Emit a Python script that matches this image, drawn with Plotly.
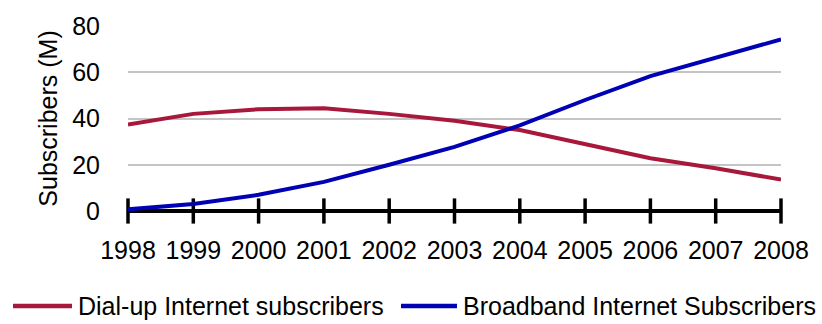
import plotly.graph_objects as go

years = [1998, 1999, 2000, 2001, 2002, 2003, 2004, 2005, 2006, 2007, 2008]
dialup = [37.4, 42.0, 44.0, 44.4, 42.0, 39.0, 35.0, 29.0, 22.8, 18.5, 13.6]
broadband = [0.7, 3.0, 7.0, 12.6, 20.0, 27.7, 37.0, 48.0, 58.3, 66.4, 74.2]
y_ticks = [0, 20, 40, 60, 80]
series_names = ["Dial-up Internet subscribers", "Broadband Internet Subscribers"]

RED = "#a8183a"
BLUE = "#0000b4"
FONT = "Liberation Sans, Arial, sans-serif"

W, H = 822, 324
ML, MR, MT, MB = 128, 41, 20, 113
PW, PH = W - ML - MR, H - MT - MB


def px_x(px):
    return (px - ML) / PW


def px_y(py):
    return (H - MB - py) / PH


fig = go.Figure()

# cross-shaped tick marks on the category axis
fig.add_trace(go.Scatter(
    x=years, y=[0] * len(years), mode="markers",
    marker=dict(symbol="line-ns", size=18, line=dict(width=3.5, color="black")),
    showlegend=False, hoverinfo="skip", cliponaxis=False,
))

fig.add_trace(go.Scatter(
    x=years, y=dialup, mode="lines", name=series_names[0],
    line=dict(color=RED, width=4), cliponaxis=False, showlegend=False,
))
fig.add_trace(go.Scatter(
    x=years, y=broadband, mode="lines", name=series_names[1],
    line=dict(color=BLUE, width=4), cliponaxis=False, showlegend=False,
))

# legend row along the bottom: swatch line + label for each series
legend_items = [(13, 72, 77, RED, series_names[0]), (401, 457, 462, BLUE, series_names[1])]
ly = px_y(309)
for x0, x1, tx, color, label in legend_items:
    fig.add_shape(type="line", xref="paper", yref="paper",
                  x0=px_x(x0), x1=px_x(x1), y0=ly, y1=ly,
                  line=dict(color=color, width=4.5))
    fig.add_annotation(xref="paper", yref="paper", x=px_x(tx), y=ly,
                       xanchor="left", yanchor="middle", showarrow=False,
                       text=label, font=dict(family=FONT, size=25, color="black"),
                       borderpad=0)

fig.update_layout(
    width=W, height=H,
    margin=dict(l=ML, r=MR, t=MT, b=MB),
    paper_bgcolor="white", plot_bgcolor="white",
    font=dict(family=FONT, size=25, color="black"),
    showlegend=False,
    xaxis=dict(
        range=[1998, 2008], tickmode="array", tickvals=years,
        ticktext=[str(y) for y in years],
        showgrid=False, showline=False, zeroline=False, ticks="",
        ticklabelstandoff=22,
        tickfont=dict(size=25),
    ),
    yaxis=dict(
        range=[0, 80], tickmode="array", tickvals=y_ticks,
        showgrid=True, gridcolor="#c4c4c4", gridwidth=1.5,
        zeroline=True, zerolinecolor="black", zerolinewidth=3.5,
        showline=False, ticks="", ticklabelstandoff=27,
        tickfont=dict(size=25),
        title=dict(text="Subscribers (M)", font=dict(size=25), standoff=7),
    ),
)

fig.write_html("out.html")
